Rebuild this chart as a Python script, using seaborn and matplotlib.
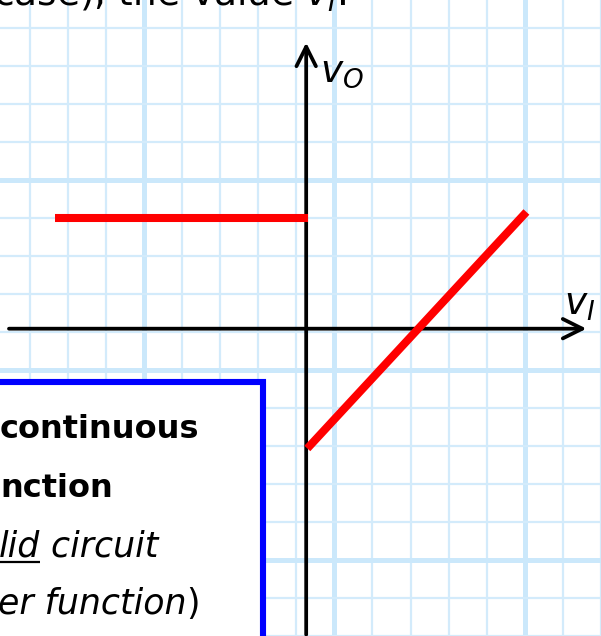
import numpy as np
import pandas as pd
import matplotlib
matplotlib.use("Agg")
import matplotlib.pyplot as plt
import seaborn as sns
from matplotlib.patches import Rectangle

# ---- data (grid units, origin at the axis crossing) ----
flat_vi = [-6.6, 0.05]
flat_vo = [2.92, 2.92]
ramp_vi = [0.03, 5.78]
ramp_vo = [-3.15, 3.07]

x_label = "$v_I$"
y_label = "$v_O$"
bold_lines = ["continuous", "nction"]
italic_line3 = ["lid", " circuit"]
italic_line4 = ["er function", ")"]
top_text = "case), the value $v_I$."

sns.set_theme(style="white")
plt.rcParams["font.family"] = ["DejaVu Sans"]
plt.rcParams["mathtext.fontset"] = "dejavusans"
plt.rcParams["text.color"] = "black"

W, H = 601, 636
X0, Y0 = 307, 332
SX, SY = 38.2, 38.4


def dx(p):
    return (p - X0) / SX


def dy(p):
    return (Y0 - p) / SY


fig = plt.figure(figsize=(W / 100, H / 100), dpi=100)
ax = fig.add_axes([0, 0, 1, 1])
ax.set_xlim(dx(0), dx(W))
ax.set_ylim(dy(H), dy(0))

# graph-paper grid
vx = [dx(29.6 + 38.2 * k) for k in range(16)]
hy = [dy(28 + 38.4 * k) for k in range(17)]
ax.set_xticks([vx[k] for k in (3, 8, 13)])
ax.set_yticks([hy[k] for k in (4, 9, 14)])
ax.set_xticks(vx, minor=True)
ax.set_yticks(hy, minor=True)
ax.grid(True, which="minor", color="#d3ebfb", lw=1.6)
ax.grid(True, which="major", color="#cbe8fb", lw=3.6)
ax.set_axisbelow(True)
ax.tick_params(which="both", length=0, labelbottom=False, labelleft=False)
for s in ax.spines.values():
    s.set_visible(False)

# axes with open arrowheads
arrow = dict(arrowstyle="->,head_length=1.4,head_width=0.7", lw=2.7,
             color="black", shrinkA=0, shrinkB=0, mutation_scale=10)
ax.annotate("", xy=(dx(588), 0), xytext=(dx(9), 0), arrowprops=arrow, zorder=3)
ax.annotate("", xy=(0, dy(43)), xytext=(0, dy(H + 5)), arrowprops=arrow, zorder=3)

# transfer function
sns.lineplot(x=flat_vi, y=flat_vo, ax=ax, color="#ff0000", linewidth=5.8,
             sort=False, estimator=None, solid_capstyle="butt", zorder=4)
sns.lineplot(x=ramp_vi, y=ramp_vo, ax=ax, color="#ff0000", linewidth=5.8,
             sort=False, estimator=None, solid_capstyle="butt", zorder=4)

# axis labels
ax.text(dx(321), dy(83), y_label, fontsize=27, color="black",
        ha="left", va="baseline", zorder=6)
ax.text(dx(566), dy(318), x_label, fontsize=27, color="black",
        ha="left", va="baseline", zorder=6)

# clipped caption at top
ax.text(dx(347), dy(6), top_text, fontsize=27, color="black",
        ha="right", va="baseline", zorder=6)

# blue note box
box = Rectangle((-0.05, -0.05), 263 / W + 0.05, (H - 382.5) / H + 0.05,
                transform=ax.transAxes, fc="white", ec="#0000ff", lw=4.4, zorder=5)
ax.add_patch(box)

ax.text(dx(0), dy(442), bold_lines[0], fontsize=23, fontweight="bold",
        color="black", ha="left", va="baseline", zorder=6)
ax.text(dx(0), dy(502), bold_lines[1], fontsize=23, fontweight="bold",
        color="black", ha="left", va="baseline", zorder=6)

fig.canvas.draw()
r = fig.canvas.get_renderer()
inv = ax.transData.inverted()

t1 = ax.text(dx(-1), dy(562), italic_line3[0], fontsize=25, style="italic",
             color="black", ha="left", va="baseline", zorder=6)
bb = t1.get_window_extent(r)
x_end = inv.transform((bb.x1, 0))[0]
ax.text(x_end, dy(562), italic_line3[1], fontsize=25, style="italic",
        color="black", ha="left", va="baseline", zorder=6)
ax.plot([dx(0), x_end], [dy(568), dy(568)], color="black", lw=1.6, zorder=6,
        solid_capstyle="butt")

t2 = ax.text(dx(-2), dy(620), italic_line4[0], fontsize=25, style="italic",
             color="black", ha="left", va="baseline", zorder=6)
bb2 = t2.get_window_extent(r)
x_end2 = inv.transform((bb2.x1, 0))[0]
ax.text(x_end2, dy(620), italic_line4[1], fontsize=25, color="black",
        ha="left", va="baseline", zorder=6)

fig.savefig("out.png", dpi=100)
